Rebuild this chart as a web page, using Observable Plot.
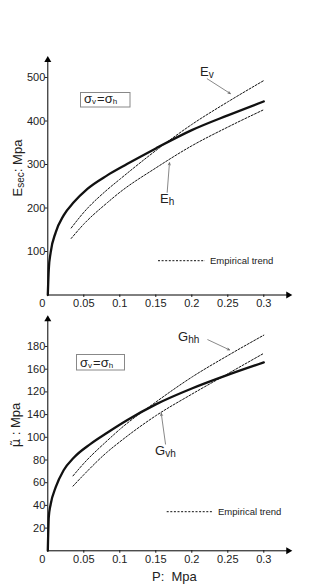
<!DOCTYPE html>
<html><head><meta charset="utf-8">
<script src="https://cdn.jsdelivr.net/npm/d3@7"></script>
<script src="https://cdn.jsdelivr.net/npm/@observablehq/plot@0.6"></script>
<style>
body{margin:0;background:#fff;}
#wrap{position:relative;width:311px;height:584px;font-family:"Liberation Sans",Arial,sans-serif;}
#top{position:absolute;left:0;top:0;}
#bot{position:absolute;left:0;top:310px;}
</style></head><body><div id="wrap"><div id="top"></div><div id="bot"></div></div>
<script>
// ---- tick values and labels ----
const pTicks = [0.05, 0.1, 0.15, 0.2, 0.25, 0.3];
const pTickLabels = ["0.05", "0.1", "0.15", "0.2", "0.25", "0.3"];
const eTicks = [100, 200, 300, 400, 500];
const eTickLabels = ["100", "200", "300", "400", "500"];
const muTicks = [20, 40, 60, 80, 100, 120, 140, 160, 180];
const muTickLabels = ["20", "40", "60", "80", "100", "140", "120", "160", "180"]; // as printed in the figure

// ---- top panel: secant modulus ----
const esecP = [0, 0.0014, 0.004, 0.011, 0.022, 0.036, 0.055, 0.0825, 0.11, 0.15, 0.2, 0.25, 0.3];
const esecV = [0, 60, 98, 144, 183, 213, 244, 275, 301, 337, 379, 413, 445];
const evP = [0.0325, 0.05, 0.0825, 0.1, 0.15, 0.2, 0.25, 0.3];
const evV = [154, 190, 242, 266, 332, 392, 444, 493];
const ehP = [0.0325, 0.05, 0.0825, 0.1, 0.15, 0.2, 0.25, 0.3];
const ehV = [130, 163, 212, 236, 292, 343, 386, 426];

// ---- bottom panel: shear modulus ----
const muP = [0, 0.0014, 0.004, 0.011, 0.022, 0.036, 0.059, 0.0825, 0.11, 0.15, 0.2, 0.25, 0.3];
const muV = [0, 30, 41, 56, 71, 82, 94, 104, 115, 129, 143, 155, 166];
const ghhP = [0.035, 0.05, 0.0825, 0.1, 0.15, 0.2, 0.25, 0.3];
const ghhV = [66, 77, 97, 107, 131, 153, 172, 190];
const gvhP = [0.035, 0.05, 0.0825, 0.1, 0.15, 0.2, 0.25, 0.3];
const gvhV = [57, 67, 87, 96, 119, 138, 156, 174];

const zip = (P, V) => P.map((p, i) => ({p, v: V[i]}));
const FONT = "Liberation Sans, Arial, sans-serif";
const INK = "#222";

function panel(o) {
  const dash = {stroke: "#111", strokeWidth: 1, strokeDasharray: "2,1.6", curve: "monotone-x"};
  const xr = [47.3, 263.3];
  const chart = Plot.plot({
    width: 311, height: o.height,
    marginLeft: xr[0], marginRight: 311 - xr[1],
    marginTop: o.yRange[1], marginBottom: o.height - o.yRange[0],
    x: {domain: [0, 0.3], range: xr},
    y: {domain: o.yDomain, range: o.yRange},
    style: {fontFamily: FONT, fontSize: "11px", color: INK, background: "transparent"},
    marks: [
      Plot.axisX(pTicks, {tickSize: 2.5, tickFormat: () => "", label: null}),
      Plot.text(pTickLabels, {x: (d, i) => pTicks[i], y: 0, text: d => d, dy: 8.5, fontSize: 11, fill: INK}),
      Plot.axisY(o.yTicks, {tickSize: 2.5, tickFormat: () => "", label: null}),
      Plot.text(o.yTickLabels, {x: 0, y: (d, i) => o.yTicks[i], text: d => d, textAnchor: "end", dx: -2.5, fontSize: 11, fill: INK}),
      Plot.ruleX([0], {y1: 0, y2: o.yTop, stroke: "black", strokeWidth: 1}),
      Plot.ruleY([0], {x1: 0, x2: 0.334, stroke: "black", strokeWidth: 1}),
      Plot.dot([{x: 0, y: o.yTop}], {x: "x", y: "y", symbol: "triangle", r: 2.6, fill: "black", stroke: null}),
      Plot.dot([{x: 0.334, y: 0}], {x: "x", y: "y", symbol: "triangle", r: 2.6, fill: "black", stroke: null, rotate: 90}),
      Plot.text(["0"], {x: 0, y: 0, dx: -5.5, dy: 8.5, fontSize: 11, fill: INK}),
      Plot.line(o.d1, {x: "p", y: "v", ...dash}),
      Plot.line(o.d2, {x: "p", y: "v", ...dash}),
      Plot.line(o.solid, {x: "p", y: "v", stroke: "#111", strokeWidth: 2.3, curve: "monotone-x"}),
      Plot.arrow(o.leaders, {x1: "x1", y1: "y1", x2: "x2", y2: "y2", stroke: "#555", strokeWidth: 0.7, headLength: 5, headAngle: 50})
    ]
  });
  const svg = d3.select(chart);
  const T = (x, y, size) => svg.append("text").attr("x", x).attr("y", y).attr("font-family", FONT)
      .attr("font-size", size).attr("fill", INK).attr("text-anchor", "start");
  // sigma box
  const b = o.box;
  svg.append("rect").attr("x", b.x).attr("y", b.y).attr("width", b.w).attr("height", b.h)
     .attr("fill", "none").attr("stroke", "#888").attr("stroke-width", 1);
  const st = T(b.tx, b.ty, 13);
  st.append("tspan").text("σ");
  st.append("tspan").attr("font-size", 8).attr("dy", 1).text("v");
  st.append("tspan").attr("dy", -1).attr("dx", 1).text("=");
  st.append("tspan").text("σ");
  st.append("tspan").attr("font-size", 8).attr("dy", 1).text("h");
  // curve labels
  for (const L of o.labels) {
    const t = T(L.x, L.y, 13);
    t.append("tspan").text(L.main);
    t.append("tspan").attr("font-size", 10).attr("dy", 2).text(L.sub);
  }
  // legend
  const lg = o.legend;
  svg.append("line").attr("x1", lg.x1).attr("x2", lg.x2).attr("y1", lg.y).attr("y2", lg.y)
     .attr("stroke", "#111").attr("stroke-width", 1).attr("stroke-dasharray", "2,1.6");
  T(lg.tx, lg.y + 3.5, 9.5).text("Empirical trend");
  // y title
  const yl = svg.append("text").attr("transform", `translate(${o.ytitle.x},${o.ytitle.y}) rotate(-90)`)
     .attr("text-anchor", "middle").attr("font-family", FONT).attr("font-size", 13).attr("fill", INK);
  for (const part of o.ytitle.parts) {
    const ts = yl.append("tspan").text(part.t);
    if (part.sub) ts.attr("font-size", 10).attr("dy", 2);
    if (part.back) ts.attr("dy", -2);
    if (part.font) ts.attr("font-family", part.font);
  }
  if (o.xtitle) {
    T(o.xtitle.x, o.xtitle.y, 13).style("white-space", "pre").text("P:  Mpa");
  }
  return chart;
}

document.getElementById("top").append(panel({
  height: 310, yDomain: [0, 500], yRange: [294.5, 77], yTop: 540,
  yTicks: eTicks, yTickLabels: eTickLabels,
  solid: zip(esecP, esecV), d1: zip(evP, evV), d2: zip(ehP, ehV),
  leaders: [{x1: 0.2214, y1: 497, x2: 0.2535, y2: 463}, {x1: 0.1658, y1: 236, x2: 0.169, y2: 304}],
  box: {x: 80.5, y: 92.5, w: 49.5, h: 14.5, tx: 84, ty: 103},
  labels: [{x: 200, y: 75.5, main: "E", sub: "v"}, {x: 160, y: 203, main: "E", sub: "h"}],
  legend: {x1: 158, x2: 205, y: 260.7, tx: 210},
  ytitle: {x: 21.5, y: 168, parts: [{t: "E"}, {t: "sec", sub: true}, {t: ": Mpa", back: true}]}
}));

document.getElementById("bot").append(panel({
  height: 274, yDomain: [0, 180], yRange: [240.3, 36], yTop: 204,
  yTicks: muTicks, yTickLabels: muTickLabels,
  solid: zip(muP, muV), d1: zip(ghhP, ghhV), d2: zip(gvhP, gvhV),
  leaders: [{x1: 0.2222, y1: 186, x2: 0.2524, y2: 177}, {x1: 0.1635, y1: 94, x2: 0.1576, y2: 121}],
  box: {x: 76.5, y: 44.5, w: 48, h: 15.5, tx: 80, ty: 56.5},
  labels: [{x: 178, y: 31, main: "G", sub: "hh"}, {x: 155, y: 145, main: "G", sub: "vh"}],
  legend: {x1: 166.7, x2: 213.3, y: 201.7, tx: 218},
  ytitle: {x: 20, y: 115, parts: [{t: "μ̃", font: "DejaVu Sans"}, {t: " : Mpa"}]},
  xtitle: {x: 152, y: 271}
}));
</script></body></html>
